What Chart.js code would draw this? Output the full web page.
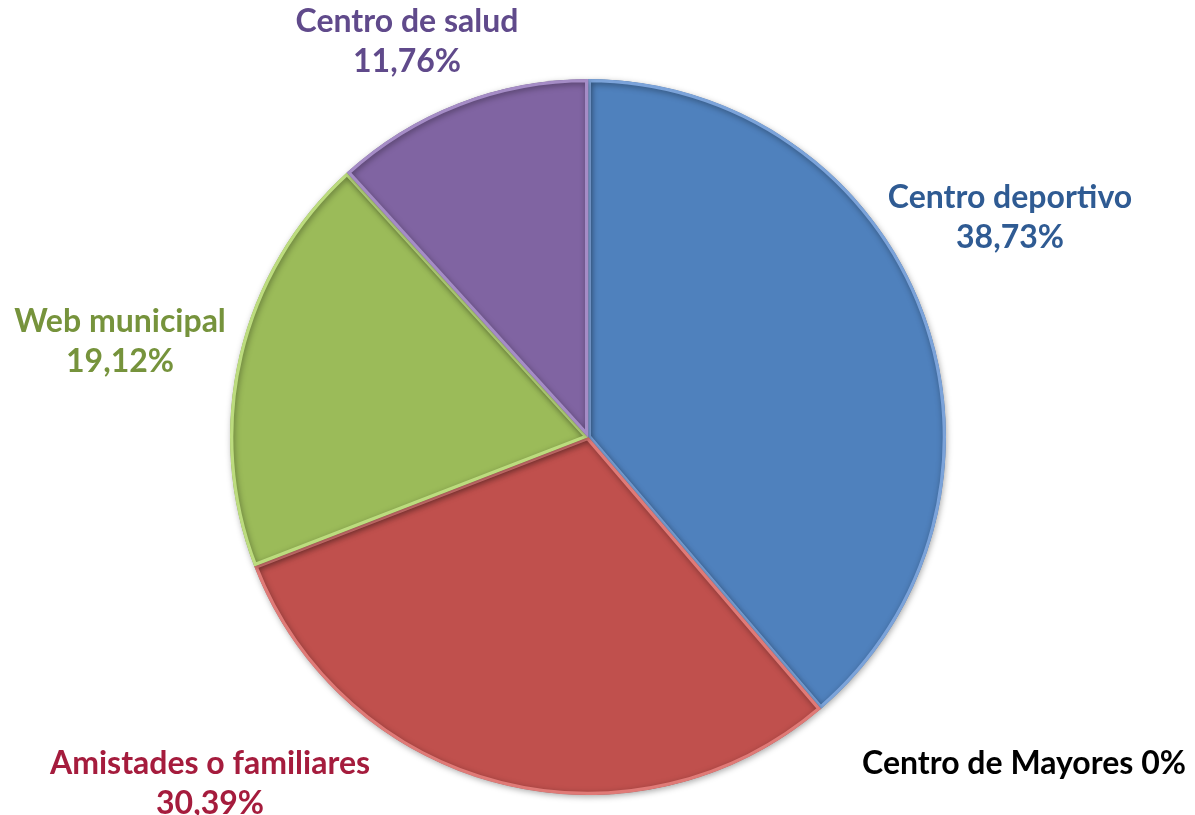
<!DOCTYPE html>
<html>
<head>
<meta charset="utf-8">
<script src="https://cdn.jsdelivr.net/npm/chart.js@4.4.0/dist/chart.umd.min.js"></script>
<style>
html,body{margin:0;padding:0;background:#fff;}
#wrap{width:1195px;height:815px;position:relative;}
</style>
</head>
<body>
<div id="wrap"><canvas id="c" width="1195" height="815"></canvas></div>
<script>
const categories = ["Centro deportivo", "Centro de Mayores", "Amistades o familiares", "Web municipal", "Centro de salud"];
const values = [38.73, 0, 30.39, 19.12, 11.76];
const valueLabels = ["38,73%", "0%", "30,39%", "19,12%", "11,76%"];
const sliceColors = ["#4F81BD", "#4F81BD", "#C0504D", "#9BBB59", "#8064A2"];
const edgeColors = ["#7BA3DA", "#7BA3DA", "#E07A77", "#BCDC7E", "#A58CC6"];
const labelColors = ["#2F5B93", "#000000", "#A51C3D", "#76933C", "#604A8B"];
// label anchor positions (text centres) and layout
const labelPos = [
  {x:1010, y:198, oneLine:false},
  {x:1024, y:764, oneLine:true},
  {x:210, y:764, oneLine:false},
  {x:120, y:322, oneLine:false},
  {x:407, y:22, oneLine:false}
];

const labelPlugin = {
  id: 'outLabels',
  afterDraw(chart) {
    const ctx = chart.ctx;
    ctx.save();
    ctx.font = 'bold 32px Lato, "Open Sans", sans-serif';
    ctx.textAlign = 'center';
    ctx.textBaseline = 'middle';
    categories.forEach((name, i) => {
      const p = labelPos[i];
      ctx.fillStyle = labelColors[i];
      if (p.oneLine) {
        ctx.fillText(name + ' ' + valueLabels[i], p.x, p.y);
      } else {
        ctx.fillText(name, p.x, p.y);
        ctx.fillText(valueLabels[i], p.x, p.y + 40);
      }
    });
    ctx.restore();
  }
};

const shadowPlugin = {
  id: 'shadow',
  beforeDatasetsDraw(chart) {
    const ctx = chart.ctx;
    ctx.save();
    ctx.shadowColor = 'rgba(0,0,0,0.35)';
    ctx.shadowBlur = 6;
    ctx.shadowOffsetX = 1;
    ctx.shadowOffsetY = 2;
  },
  afterDatasetsDraw(chart) {
    chart.ctx.restore();
  }
};

new Chart(document.getElementById('c'), {
  type: 'pie',
  data: {
    labels: categories,
    datasets: [{
      data: values,
      backgroundColor: sliceColors,
      borderColor: edgeColors,
      borderWidth: 3,
      borderAlign: 'inner'
    }]
  },
  options: {
    responsive: false,
    animation: false,
    layout: { padding: { left: 230, right: 249, top: 79, bottom: 20 } },
    plugins: {
      legend: { display: false },
      tooltip: { enabled: false }
    }
  },
  plugins: [shadowPlugin, labelPlugin]
});
</script>
</body>
</html>
